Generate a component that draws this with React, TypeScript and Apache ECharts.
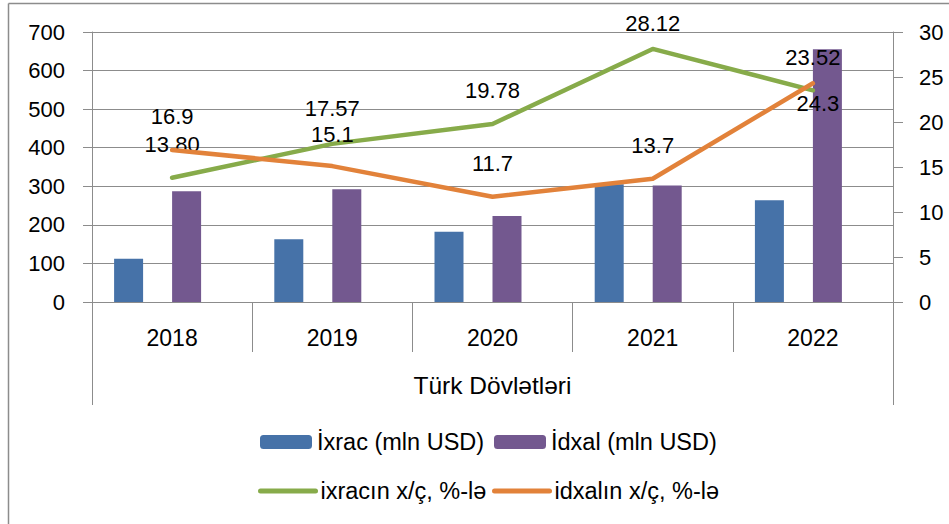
import React, { useEffect, useRef } from "react";
import * as echarts from "echarts";

const years = ["2018", "2019", "2020", "2021", "2022"];
const groupLabel = "Türk Dövlətləri";
const exportValues = [112, 163, 182, 305, 264];
const importValues = [287, 292, 223, 302, 655];
const exportGrowth = [13.8, 17.57, 19.78, 28.12, 23.52];
const exportGrowthLabels = ["13.80", "17.57", "19.78", "28.12", "23.52"];
const importGrowth = [16.9, 15.1, 11.7, 13.7, 24.3];
const importGrowthLabels = ["16.9", "15.1", "11.7", "13.7", "24.3"];
const leftTicks = { min: 0, max: 700, interval: 100 };
const rightTicks = { min: 0, max: 30, interval: 5 };
const seriesNames = {
  exp: "İxrac (mln USD)",
  imp: "İdxal (mln USD)",
  expG: "ixracın x/ç, %-lə",
  impG: "idxalın x/ç, %-lə",
};

const FONT = "Liberation Sans, Arial, sans-serif";
const GRAY = "#8c8c8c";
const GREEN = "#87ab4a";
const ORANGE = "#e2823a";

export default function App() {
  const ref = useRef<HTMLDivElement>(null);
  useEffect(() => {
    if (!ref.current) return;
    const chart = echarts.init(ref.current, undefined, { renderer: "svg" });
    const labelBase = {
      show: true,
      color: "#000",
      fontSize: 22,
      lineHeight: 20,
      fontFamily: FONT,
      position: "top",
      distance: 23,
    };
    const expData = exportGrowth.map((v, i) => {
      const item: any = { value: v };
      if (i === 1) item.label = { offset: [0, -2] };
      if (i === 3) item.label = { distance: 15 };
      return item;
    });
    const impData = importGrowth.map((v, i) => {
      const item: any = { value: v };
      if (i === 1) item.label = { offset: [0, 1.5] };
      if (i === 4) item.label = { position: "bottom", distance: 10, offset: [5, 0] };
      return item;
    });
    const legendText = { fontSize: 23.5, lineHeight: 24, fontFamily: FONT, color: "#000" };
    const mkLegend = (name: string, left: number, top: number, w: number, h: number, isLine: boolean) => {
      const l: any = {
        data: [name],
        left,
        top,
        itemWidth: w,
        itemHeight: h,
        itemGap: 0,
        padding: 0,
        textStyle: legendText,
        selectedMode: false,
      };
      if (isLine) {
        l.itemStyle = { opacity: 0 };
        l.lineStyle = { width: 5, cap: "round" };
      }
      return l;
    };
    chart.setOption({
      animation: false,
      backgroundColor: "#fff",
      textStyle: { fontFamily: FONT },
      grid: { left: 92, right: 56, top: 32, bottom: 222, containLabel: false },
      legend: [
        mkLegend(seriesNames.exp, 260, 430, 52, 14, false),
        mkLegend(seriesNames.imp, 494, 430, 52, 14, false),
        mkLegend(seriesNames.expG, 258, 479, 55, 14, true),
        mkLegend(seriesNames.impG, 492, 479, 55, 14, true),
      ],
      xAxis: [
        {
          type: "category",
          data: years,
          position: "bottom",
          boundaryGap: true,
          axisLine: { show: true, lineStyle: { color: GRAY, width: 1 } },
          axisTick: { show: true, length: 50, interval: 0, lineStyle: { color: GRAY, width: 1 } },
          axisLabel: { color: "#000", fontSize: 23, lineHeight: 23, fontFamily: FONT, margin: 24, interval: 0 },
          splitLine: { show: false },
        },
        {
          type: "category",
          data: [groupLabel],
          position: "bottom",
          boundaryGap: true,
          axisLine: { show: false },
          axisTick: { show: true, length: 103, lineStyle: { color: GRAY, width: 1 } },
          axisLabel: { color: "#000", fontSize: 24.5, lineHeight: 24, fontFamily: FONT, margin: 71 },
          splitLine: { show: false },
        },
      ],
      yAxis: [
        {
          type: "value",
          ...leftTicks,
          position: "left",
          axisLine: { show: true, lineStyle: { color: GRAY, width: 1 } },
          axisTick: { show: true, length: 9, lineStyle: { color: GRAY, width: 1 } },
          axisLabel: { color: "#000", fontSize: 22, fontFamily: FONT, margin: 27 },
          splitLine: { show: true, lineStyle: { color: GRAY, width: 1 } },
        },
        {
          type: "value",
          ...rightTicks,
          position: "right",
          axisLine: { show: true, lineStyle: { color: GRAY, width: 1 } },
          axisTick: { show: true, length: 10, lineStyle: { color: GRAY, width: 1 } },
          axisLabel: { color: "#000", fontSize: 22, fontFamily: FONT, margin: 26 },
          splitLine: { show: false },
        },
      ],
      series: [
        {
          name: seriesNames.exp,
          type: "bar",
          data: exportValues,
          barWidth: 29,
          barGap: "0%",
          itemStyle: { color: "#4672a8" },
        },
        {
          name: "_gap1",
          type: "bar",
          data: years.map(() => "-"),
          barWidth: 29,
          barGap: "0%",
        },
        {
          name: seriesNames.imp,
          type: "bar",
          data: importValues,
          barWidth: 29,
          barGap: "0%",
          itemStyle: { color: "#73588f" },
        },
        {
          name: "_gap2",
          type: "bar",
          data: years.map(() => "-"),
          barWidth: 29,
          barGap: "0%",
        },
        {
          name: seriesNames.expG,
          type: "line",
          yAxisIndex: 1,
          data: expData,
          symbol: "circle",
          symbolSize: 0.1,
          showSymbol: true,
          lineStyle: { color: GREEN, width: 4.5, cap: "round", join: "round" },
          itemStyle: { color: GREEN },
          label: { ...labelBase, formatter: (p: any) => exportGrowthLabels[p.dataIndex] },
          z: 3,
        },
        {
          name: seriesNames.impG,
          type: "line",
          yAxisIndex: 1,
          data: impData,
          symbol: "circle",
          symbolSize: 0.1,
          showSymbol: true,
          lineStyle: { color: ORANGE, width: 4.5, cap: "round", join: "round" },
          itemStyle: { color: ORANGE },
          label: { ...labelBase, formatter: (p: any) => importGrowthLabels[p.dataIndex] },
          z: 4,
        },
      ],
      graphic: [
        { type: "line", shape: { x1: 8.5, y1: 3.5, x2: 949, y2: 3.5 }, style: { stroke: GRAY, lineWidth: 1.5 }, silent: true },
        { type: "line", shape: { x1: 8.5, y1: 3.5, x2: 8.5, y2: 524 }, style: { stroke: GRAY, lineWidth: 1.5 }, silent: true },
      ],
    });
    return () => chart.dispose();
  }, []);
  return (
    <div
      ref={ref}
      style={{ position: "fixed", left: 0, top: 0, width: 949, height: 524, background: "#fff" }}
    />
  );
}
